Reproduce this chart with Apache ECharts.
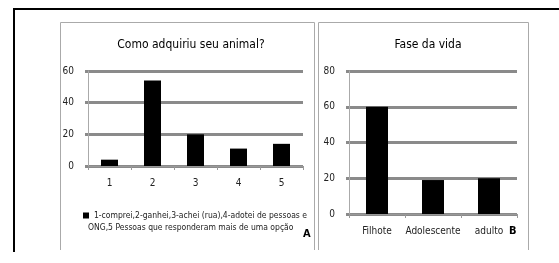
<!DOCTYPE html>
<html>
<head>
<meta charset="utf-8">
<script src="https://cdn.jsdelivr.net/npm/echarts@6/dist/echarts.min.js"></script>
<style>
  html, body { margin: 0; padding: 0; background: #fff; }
  #chart { width: 559px; height: 263px; }
</style>
</head>
<body>
<div id="chart"></div>
<script>
// painel A
const categoriasA = ['1', '2', '3', '4', '5'];
const valoresA = [4, 54, 20, 11, 14];
const ticksA = [0, 20, 40, 60];
const legendaA = ['1-comprei,2-ganhei,3-achei (rua),4-adotei de pessoas e', 'ONG,5 Pessoas que responderam mais de uma opção'];

// painel B
const categoriasB = ['Filhote', 'Adolescente', 'adulto'];
const valoresB = [60, 19, 20];
const ticksB = [0, 20, 40, 60, 80];

const fonte = '"DejaVu Sans Condensed", "Liberation Sans Narrow", sans-serif';
const cinza = '#8a8a8a';
const texto = '#222';

function eixoY(idx, ticks) {
    return {
        type: 'value',
        gridIndex: idx,
        min: ticks[0],
        max: ticks[ticks.length - 1],
        interval: ticks[1] - ticks[0],
        axisLine: { show: true, lineStyle: { color: '#aaa', width: 1 } },
        axisTick: { show: true, length: 3, lineStyle: { color: cinza, width: 3 } },
        axisLabel: { color: texto, fontFamily: fonte, fontSize: 10, margin: 14 },
        splitLine: { show: true, lineStyle: { color: cinza, width: 3 } }
    };
}

function eixoX(idx, cats) {
    return {
        type: 'category',
        gridIndex: idx,
        data: cats,
        axisLine: { show: true, lineStyle: { color: '#999', width: 1 } },
        axisTick: { show: true, length: 4, lineStyle: { color: '#999' } },
        axisLabel: { color: texto, fontFamily: fonte, fontSize: 10, margin: 12, interval: 0 }
    };
}

let chart = echarts.init(document.getElementById('chart'), null, { renderer: 'canvas' });

let option = {
    animation: false,
    backgroundColor: '#fff',
    title: [
        {
            text: 'Como adquiriu seu animal?',
            left: 186, top: 34, textAlign: 'center',
            textStyle: { fontFamily: fonte, fontSize: 12, fontWeight: 'normal', color: '#000' }
        },
        {
            text: 'Fase da vida',
            left: 423, top: 34, textAlign: 'center',
            textStyle: { fontFamily: fonte, fontSize: 12, fontWeight: 'normal', color: '#000' }
        }
    ],
    grid: [
        { left: 88, right: 256, top: 71, bottom: 97 },
        { left: 349, right: 42, top: 71, bottom: 49 }
    ],
    xAxis: [eixoX(0, categoriasA), eixoX(1, categoriasB)],
    yAxis: [eixoY(0, ticksA), eixoY(1, ticksB)],
    legend: {
        data: [legendaA.join('\n')],
        formatter: () => legendaA[0],
        left: 78, top: 206,
        icon: 'rect', itemWidth: 6, itemHeight: 6, itemGap: 4,
        textStyle: { fontFamily: fonte, fontSize: 8.5, color: texto }
    },
    series: [
        {
            name: legendaA.join('\n'), type: 'bar', xAxisIndex: 0, yAxisIndex: 0,
            data: valoresA, barWidth: 17, itemStyle: { color: '#000' }
        },
        {
            name: 'Fase da vida', type: 'bar', xAxisIndex: 1, yAxisIndex: 1,
            data: valoresB, barWidth: 22, itemStyle: { color: '#000' }
        }
    ],
    graphic: [
        // moldura externa
        { type: 'polyline', shape: { points: [[14, 252], [14, 9], [559, 9]] }, style: { stroke: '#000', lineWidth: 2, fill: null } },
        // painel A
        { type: 'polyline', shape: { points: [[60.5, 250], [60.5, 22.5], [314.5, 22.5], [314.5, 250]] }, style: { stroke: '#aaa', lineWidth: 1, fill: null } },
        // painel B
        { type: 'polyline', shape: { points: [[318.5, 250], [318.5, 22.5], [528.5, 22.5], [528.5, 250]] }, style: { stroke: '#aaa', lineWidth: 1, fill: null } },
        { type: 'text', left: 88, top: 223, style: { text: legendaA[1], fontFamily: fonte, fontSize: 8.5, fill: texto } },
        { type: 'text', left: 303, top: 229, style: { text: 'A', fontFamily: fonte, fontSize: 11, fontWeight: 'bold', fill: '#000' } },
        { type: 'text', left: 509, top: 226, style: { text: 'B', fontFamily: fonte, fontSize: 11, fontWeight: 'bold', fill: '#000' } }
    ]
};

chart.setOption(option);
</script>
</body>
</html>
